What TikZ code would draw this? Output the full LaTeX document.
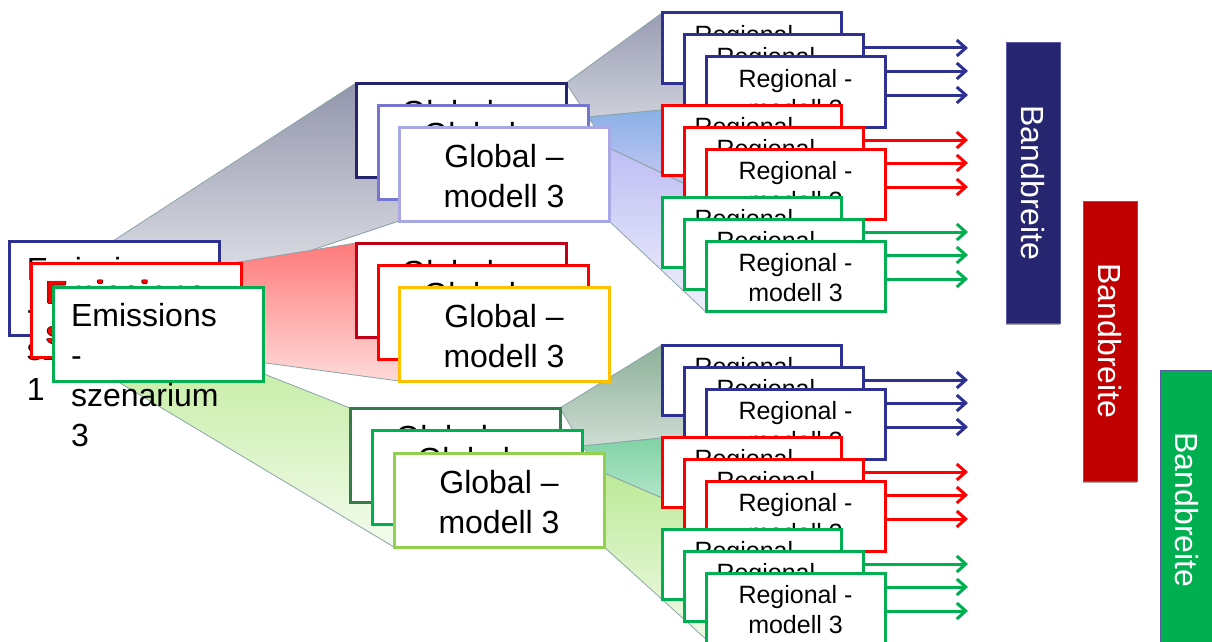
\documentclass[tikz,border=0pt]{standalone}
\usepackage{fontspec}
\setmainfont{Liberation Sans}
\usetikzlibrary{arrows.meta,backgrounds}
\definecolor{navyR}{HTML}{2E3192}
\definecolor{redR}{HTML}{FF0000}
\definecolor{greenR}{HTML}{00B050}
\definecolor{gOneA}{HTML}{25256E}
\definecolor{gOneB}{HTML}{7676D2}
\definecolor{gOneC}{HTML}{A8A8E4}
\definecolor{gTwoA}{HTML}{C00018}
\definecolor{gTwoC}{HTML}{FFC000}
\definecolor{gThreeA}{HTML}{357A4A}
\definecolor{gThreeC}{HTML}{92D050}
\definecolor{barOne}{HTML}{262670}
\definecolor{barTwo}{HTML}{C00000}
\definecolor{barThree}{HTML}{00B050}
\definecolor{barline}{HTML}{5B5BA8}
\definecolor{wedgeline}{HTML}{8AA4A8}
\definecolor{outlinecol}{HTML}{3A1010}
\newcommand{\gtxt}{\rule{0pt}{28pt}Global –\\modell 3}
\newcommand{\rtxt}{\rule{0pt}{22pt}Regional -\\modell 3}
\newcommand{\redoutl}[1]{\leavevmode
  \rlap{\textcolor{outlinecol}{\kern-0.8pt #1}}%
  \rlap{\textcolor{outlinecol}{\kern0.8pt #1}}%
  \rlap{\textcolor{outlinecol}{\raisebox{0.8pt}{#1}}}%
  \rlap{\textcolor{outlinecol}{\raisebox{-0.8pt}{#1}}}%
  #1}
\tikzset{
  box/.style={draw, fill=white, line width=3pt, inner sep=0pt, outer sep=0pt, anchor=north west,
    font=\fontsize{32}{40}\selectfont, align=center, text=black},
  ebox/.style={box, minimum width=210pt, minimum height=94pt},
  gbox/.style={box, minimum width=210pt, minimum height=94pt},
  rbox/.style={box, minimum width=179pt, minimum height=70pt, font=\fontsize{25}{30}\selectfont},
  etext/.style={anchor=north west, inner sep=0pt, outer sep=0pt, align=left, font=\fontsize{32}{40}\selectfont},
  wedge/.style={draw=wedgeline, line width=0.8pt},
  arr/.style={line width=3pt, -{Straight Barb[length=9pt,width=16pt,line width=3pt]}},
  bar/.style={rotate=-90, minimum width=280pt, minimum height=54pt, inner sep=0pt, outer sep=0pt,
    text=white, font=\fontsize{32}{38}\selectfont, draw=barline, line width=1pt},
  shadowbar/.style={fill=black!35},
}
\begin{document}
\begin{tikzpicture}[x=1pt,y=-1pt]
\useasboundingbox (0,0) rectangle (1212,642);

% emission boxes
\node[ebox, draw=navyR] (e1) at (9,241) {};
\node[etext] (e1t) at (27,257) {Emissions\\-\\szenarium\\1};
\node[ebox, draw=redR] (e2) at (31,263) {};
\node[etext, text=redR, font=\bfseries\fontsize{32}{40}\selectfont] (e2t) at (46,280) {\redoutl{Emissions-}\\\redoutl{szenarium 2}};
\node[ebox, draw=greenR] (e3) at (53,287) {};
\node[etext] (e3t) at (71,303) {Emissions\\-\\szenarium\\3};

% global boxes
\node[gbox, draw=gOneA] (g1a) at (356,83) {\gtxt};
\node[gbox, draw=gOneB] (g1b) at (378,105) {\gtxt};
\node[gbox, draw=gOneC] (g1c) at (399,127) {\gtxt};
\node[gbox, draw=gTwoA] (g2a) at (356,243) {\gtxt};
\node[gbox, draw=redR] (g2b) at (378,265) {\gtxt};
\node[gbox, draw=gTwoC] (g2c) at (399,287) {\gtxt};
\node[gbox, draw=gThreeA] (g3a) at (350,408) {\gtxt};
\node[gbox, draw=greenR] (g3b) at (372,430) {\gtxt};
\node[gbox, draw=gThreeC] (g3c) at (394,453) {\gtxt};

% regional boxes and arrows
\foreach \g/\oy in {t/0, b/332} {
  \foreach \c/\col/\dy in {1/navyR/0, 2/redR/92, 3/greenR/184} {
    \foreach \k in {1,2,3} {
      \node[rbox, draw=\col] (r\g\c\k) at ({662+22*(\k-1)}, {13+\oy+\dy+22*(\k-1)}) {\rtxt};
    }
    \coordinate (a\g\c1) at (968, {48+\oy+\dy});
    \coordinate (a\g\c2) at (968, {71+\oy+\dy});
    \coordinate (a\g\c3) at (968, {95+\oy+\dy});
    \draw[arr, draw=\col, line width=3pt] (r\g\c2.east |- a\g\c1) -- (a\g\c1);
    \draw[arr, draw=\col, line width=3pt] (r\g\c3.east |- a\g\c2) -- (a\g\c2);
    \draw[arr, draw=\col, line width=3pt] (r\g\c3.east |- a\g\c3) -- (a\g\c3);
  }
}

% Bandbreite bars
\fill[shadowbar] (1006,322) rectangle (1060,325);
\fill[shadowbar] (1083,480) rectangle (1137,483);
\node[bar, fill=barOne] (b1) at (1033,183) {Bandbreite};
\node[bar, fill=barTwo] (b2) at (1110,341) {Bandbreite};
\node[bar, fill=barThree] (b3) at (1187,510) {Bandbreite};

% wedges behind
\begin{scope}[on background layer]
\fill[white] (0,0) rectangle (1212,642);
\path[wedge, top color={rgb,255:red,147;green,150;blue,172}, bottom color={rgb,255:red,236;green,237;blue,241}]
  (113,241) -- (g1a.north west) -- (420,83) -- (420,221) -- (g1c.south west) -- (303,253) -- (113,316) -- cycle;
\path[wedge, top color={rgb,255:red,255;green,122;blue,122}, bottom color={rgb,255:red,255;green,218;blue,218}]
  (140,278) -- (g2a.north west) -- (420,243) -- (420,381) -- (g2c.south west) -- (140,346) -- cycle;
\path[wedge, top color={rgb,255:red,186;green,233;blue,146}, bottom color={rgb,255:red,244;green,252;blue,238}]
  (115,315) -- (g3a.north west) -- (420,408) -- (420,547) -- (g3c.south west) -- (115,380) -- cycle;
\path[wedge, top color={rgb,255:red,154;green,157;blue,179}, bottom color={rgb,255:red,205;green,208;blue,218}]
  (g1a.north east) -- (662,13) -- (684,13) -- (684,108) -- (662,110) -- (588,117) -- cycle;
\path[wedge, top color={rgb,255:red,136;green,176;blue,230}, bottom color={rgb,255:red,196;green,200;blue,243}]
  (588,117) -- (662,110) -- (684,108) -- (684,183.4) -- (609,148) -- cycle;
\path[wedge, top color={rgb,255:red,190;green,190;blue,244}, bottom color={rgb,255:red,239;green,239;blue,252}]
  (609,148) -- (706,194) -- (706,312) -- (g1c.south east) -- cycle;
\path[wedge, top color={rgb,255:red,141;green,176;blue,153}, bottom color={rgb,255:red,206;green,221;blue,211}]
  (g3a.north east) -- (662,345) -- (684,345) -- (684,436) -- (662,438) -- (582,446) -- cycle;
\path[wedge, top color={rgb,255:red,127;green,210;blue,164}, bottom color={rgb,255:red,184;green,232;blue,205}]
  (582,446) -- (662,438) -- (684,436) -- (684,507.5) -- (604,473) -- cycle;
\path[wedge, top color={rgb,255:red,189;green,234;blue,152}, bottom color={rgb,255:red,240;green,250;blue,232}]
  (604,473) -- (707,517.4) -- (707,640) -- (g3c.south east) -- cycle;
\end{scope}
\end{tikzpicture}
\end{document}
